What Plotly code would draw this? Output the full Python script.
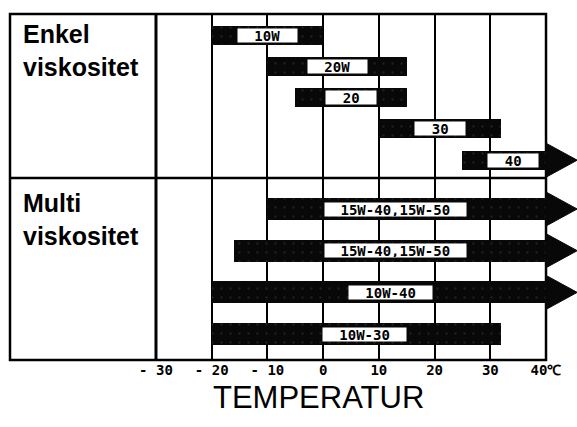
import plotly.graph_objects as go

# ---- data ----
enkel_labels = ["10W", "20W", "20", "30", "40"]
enkel_start = [-20, -10, -5, 10, 25]
enkel_end = [0, 15, 15, 32, 40]
enkel_arrow = [False, False, False, False, True]
enkel_label_x = [-10, 2.5, 5, 21, 34]

multi_labels = ["15W-40,15W-50", "15W-40,15W-50", "10W-40", "10W-30"]
multi_start = [-10, -16, -20, -20]
multi_end = [40, 40, 40, 32]
multi_arrow = [True, True, True, False]
multi_label_x = [13, 13, 12, 7.5]

tick_vals = [-30, -20, -10, 0, 10, 20, 30, 40]
tick_text = ["- 30", "- 20", "- 10", "0", "10", "20", "30", "40℃"]

section_titles = ["Enkel<br>viskositet", "Multi<br>viskositet"]
axis_title = "TEMPERATUR"

# ---- layout constants ----
W, H = 577, 427
ML, MR, MT, MB = 10, 0, 14, 67
X_MIN, X_MAX = -56.2, 45.56
Y_TOTAL = 346          # plot height in px units
SECTION_SPLIT = 164    # y of divider
ENKEL_Y0, ENKEL_STEP = 21, 31.3
MULTI_Y0, MULTI_STEP = 195, 41.7
ENKEL_BAR_H, MULTI_BAR_H = 19, 22
ARROW_H = 34
ARROW_TIP = 45.6
AXIS_END = 40

enkel_y = [ENKEL_Y0 + i * ENKEL_STEP for i in range(len(enkel_labels))]
multi_y = [MULTI_Y0 + i * MULTI_STEP for i in range(len(multi_labels))]

all_y = enkel_y + multi_y
all_start = enkel_start + multi_start
all_end = enkel_end + multi_end
all_arrow = enkel_arrow + multi_arrow
all_labels = enkel_labels + multi_labels
all_label_x = enkel_label_x + multi_label_x
all_h = [ENKEL_BAR_H] * len(enkel_y) + [MULTI_BAR_H] * len(multi_y)

fig = go.Figure()

fig.add_trace(go.Bar(
    orientation="h",
    y=all_y,
    base=all_start,
    x=[e - s for s, e in zip(all_start, all_end)],
    width=all_h,
    marker=dict(color="#080808", line=dict(width=0),
                pattern=dict(shape=".", fgcolor="#3a3a3a", bgcolor="#080808",
                             size=9, solidity=0.05)),
    hoverinfo="skip",
    showlegend=False,
))

# arrowheads
ax, ay = [], []
for y, e, a in zip(all_y, all_end, all_arrow):
    if a:
        ax += [e, e, ARROW_TIP, e, None]
        ay += [y - ARROW_H / 2, y + ARROW_H / 2, y, y - ARROW_H / 2, None]
fig.add_trace(go.Scatter(
    x=ax, y=ay, mode="lines", fill="toself", fillcolor="#080808",
    line=dict(color="#080808", width=1), hoverinfo="skip", showlegend=False,
    cliponaxis=False,
))

# white label boxes
for lx, y, t in zip(all_label_x, all_y, all_labels):
    fig.add_annotation(
        x=lx, y=y, text=t, showarrow=False,
        font=dict(family="DejaVu Sans Mono", size=14, color="black", weight="bold"),
        bgcolor="white", width=8.2 * len(t) + 34, height=13,
        borderpad=0, xanchor="center", yanchor="middle",
    )

# section titles
for yt, t in zip([4, SECTION_SPLIT + 9], section_titles):
    fig.add_annotation(
        x=0.019, xref="paper", y=yt, yref="y", text=t, showarrow=False,
        xanchor="left", yanchor="top", align="left",
        font=dict(family="Liberation Sans", size=25, color="black", weight="bold"),
    )

# axis title
fig.add_annotation(
    x=(318 - ML) / (W - ML - MR), xref="paper", y=-0.107, yref="paper",
    text=axis_title, showarrow=False, xanchor="center", yanchor="middle",
    font=dict(family="Liberation Sans", size=31, color="black"),
)

p40 = (AXIS_END - X_MIN) / (X_MAX - X_MIN)
# outer border
fig.add_shape(type="rect", xref="paper", yref="paper", x0=0, x1=p40, y0=0, y1=1,
              line=dict(color="black", width=2.5), layer="below")
# divider
ysplit = 1 - SECTION_SPLIT / Y_TOTAL
fig.add_shape(type="line", xref="paper", yref="paper", x0=0, x1=p40, y0=ysplit, y1=ysplit,
              line=dict(color="black", width=2.5), layer="below")
# thick -30 line
fig.add_shape(type="line", xref="x", yref="paper", x0=-30, x1=-30, y0=0, y1=1,
              line=dict(color="black", width=3), layer="below")

fig.update_layout(
    width=W, height=H,
    margin=dict(l=ML, r=MR, t=MT, b=MB),
    paper_bgcolor="white", plot_bgcolor="white",
    bargap=0,
    xaxis=dict(
        range=[X_MIN, X_MAX], tickvals=tick_vals, ticktext=tick_text,
        showgrid=True, gridcolor="black", gridwidth=1.5, zeroline=False,
        showline=False, ticks="",
        tickfont=dict(family="DejaVu Sans Mono", size=14, color="black", weight="bold"),
        fixedrange=True,
    ),
    yaxis=dict(range=[Y_TOTAL, 0], showgrid=False, zeroline=False,
               showticklabels=False, showline=False, fixedrange=True),
)

fig.write_html(
    "out.html",
    config={"displayModeBar": False},
    post_script="document.body.style.margin='0';document.body.style.padding='0';",
)
